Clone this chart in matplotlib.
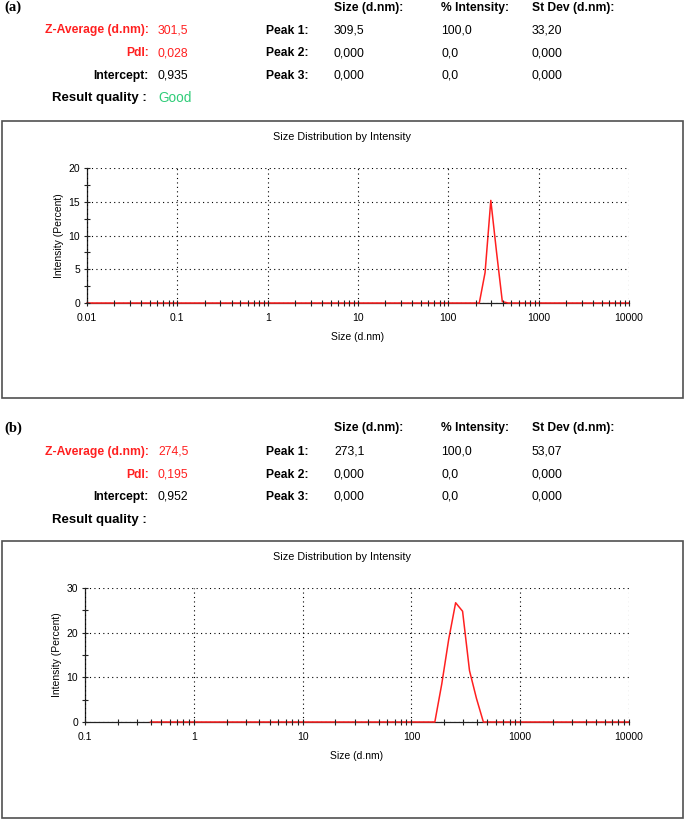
import numpy as np
import matplotlib
matplotlib.use("Agg")
import matplotlib.pyplot as plt
from matplotlib.patches import Rectangle
from matplotlib.ticker import MultipleLocator, FixedLocator, NullFormatter

plt.rcParams['font.family'] = ['Liberation Sans', 'DejaVu Sans']

# sample (a)
sizes_a = [0.01, 220.2, 255.0, 295.3, 342.0, 396.1, 458.7, 10000]
intens_a = [0, 0, 4.5, 15.2, 7.5, 0.2, 0, 0]
summary_a = {"zavg": "301,5", "pdi": "0,028", "intercept": "0,935", "quality": "Good"}
peaks_a = [["309,5", "100,0", "33,20"], ["0,000", "0,0", "0,000"], ["0,000", "0,0", "0,000"]]

# sample (b)
sizes_b = [0.4, 164.2, 190.1, 220.2, 255.0, 295.3, 342.0, 396.1, 458.7, 10000]
intens_b = [0, 0, 8.5, 18.5, 26.7, 24.8, 11.5, 5.3, 0, 0]
summary_b = {"zavg": "274,5", "pdi": "0,195", "intercept": "0,952", "quality": ""}
peaks_b = [["273,1", "100,0", "53,07"], ["0,000", "0,0", "0,000"], ["0,000", "0,0", "0,000"]]

W, H = 685, 819
fig = plt.figure(figsize=(W / 100, H / 100), dpi=100)

RED = '#ff2020'
GREEN = '#2fcc78'


def fx(x):
    return x / W


def fy(y):
    return 1 - y / H


def header(tag, y0, s, peaks):
    fig.text(fx(4), fy(y0), tag, family=['Liberation Serif'], weight='bold',
             fontsize=10.5, va='center', ha='left')
    cols = [334, 441, 532]
    for c, t in zip(cols, ["Size (d.nm):", "% Intensity:", "St Dev (d.nm):"]):
        fig.text(fx(c), fy(y0), t, weight='bold', fontsize=8.7, va='center')
    rows = [y0 + 23, y0 + 46, y0 + 68.5, y0 + 91]
    labs = [("Z-Average (d.nm):", s["zavg"], RED), ("PdI:", s["pdi"], RED),
            ("Intercept:", s["intercept"], 'black')]
    for (lab, val, col), ry in zip(labs, rows):
        fig.text(fx(149), fy(ry), lab, weight='bold', fontsize=8.7, ha='right',
                 va='center', color=col)
        fig.text(fx(158), fy(ry), val, fontsize=8.8, va='center', color=col)
    fig.text(fx(147), fy(rows[3]), "Result quality :", weight='bold', fontsize=9.5,
             ha='right', va='center')
    if s["quality"]:
        fig.text(fx(158), fy(rows[3]), s["quality"], fontsize=9.8, va='center',
                 color=GREEN)
    for i, (pk, ry) in enumerate(zip(peaks, rows)):
        fig.text(fx(308), fy(ry), "Peak %d:" % (i + 1), weight='bold', fontsize=8.7,
                 ha='right', va='center')
        for c, v in zip(cols, pk):
            fig.text(fx(c), fy(ry), v, fontsize=8.8, va='center')


def panel(box_top, ax_rect, x, y, xlim, ymax, ystep):
    fig.patches.append(Rectangle((fx(2), fy(box_top + 277)), fx(681), 277 / H,
                                 transform=fig.transFigure, fill=False,
                                 edgecolor='#505050', lw=1.2))
    l, t, r, b = ax_rect
    ax = fig.add_axes([fx(l), fy(b), fx(r - l), (b - t) / H])
    ax.set_xscale('log')
    ax.set_xlim(*xlim)
    ax.set_ylim(0, ymax)
    ax.plot(x, y, color=RED, lw=1.1, zorder=2.2, clip_on=False)
    ax.set_axisbelow(False)
    ax.spines['bottom'].set_zorder(2)
    ax.spines['top'].set_visible(False)
    ax.spines['right'].set_visible(False)
    for sp in ['left', 'bottom']:
        ax.spines[sp].set_color('#222222')
        ax.spines[sp].set_linewidth(0.9)
    lo, hi = int(round(np.log10(xlim[0]))), int(round(np.log10(xlim[1])))
    decades = [10.0 ** k for k in range(lo, hi + 1)]
    minors = [m * d for d in decades[:-1] for m in range(2, 10)]
    ax.xaxis.set_major_locator(FixedLocator(decades))
    ax.xaxis.set_minor_locator(FixedLocator(minors))
    ax.xaxis.set_minor_formatter(NullFormatter())
    ax.xaxis.set_major_formatter(plt.FuncFormatter(lambda v, p: ('%g' % v)))
    ax.yaxis.set_major_locator(MultipleLocator(ystep))
    ax.yaxis.set_minor_locator(MultipleLocator(ystep / 2))
    ax.tick_params(which='both', direction='inout', length=4, width=0.8,
                   color='#222222', labelsize=7.5, pad=3)
    ax.tick_params(axis='x', which='major', pad=5)
    ax.grid(True, which='major', color='black', lw=0.8, ls=(0, (1, 3)))
    ax.set_xlabel("Size (d.nm)", fontsize=7.5, labelpad=7)
    ax.set_ylabel("Intensity (Percent)", fontsize=7.5, labelpad=3)
    fig.text(fx(342), fy(box_top + 16), "Size Distribution by Intensity", fontsize=7.8,
             ha='center', va='center')
    return ax


header("(a)", 7.5, summary_a, peaks_a)
panel(121, (87, 168, 629, 303), sizes_a, intens_a, (0.01, 10000), 20, 5)

header("(b)", 428.5, summary_b, peaks_b)
panel(541, (85, 588, 629, 722), sizes_b, intens_b, (0.1, 10000), 30, 10)

fig.savefig("out.png", dpi=100)
